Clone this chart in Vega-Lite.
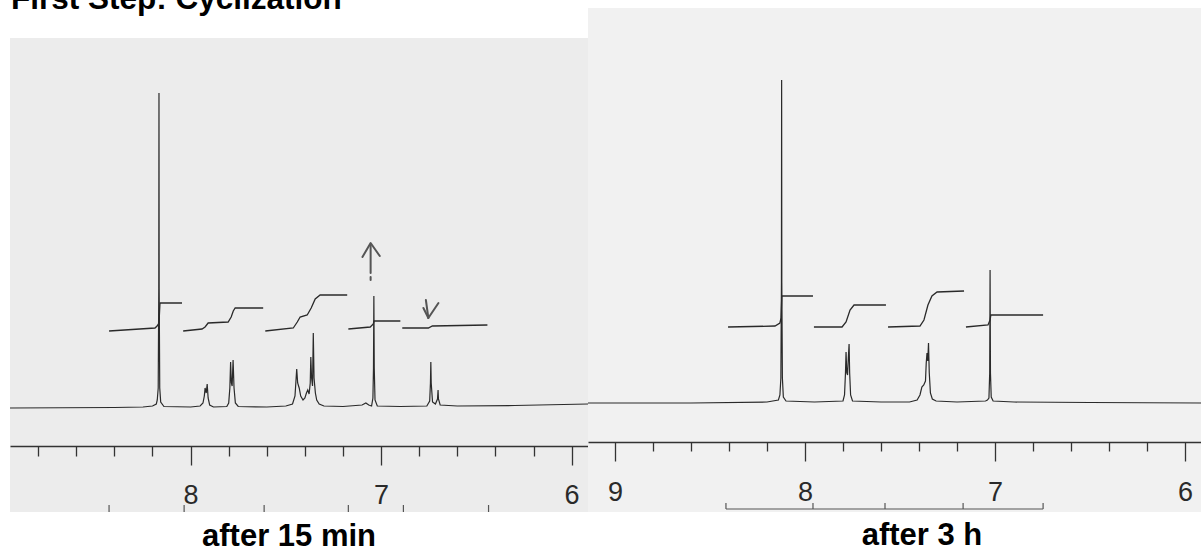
{
  "$schema": "https://vega.github.io/schema/vega-lite/v6.json",
  "autosize": {"type": "pad"},
  "padding": {"left": 7, "top": 0, "right": 0, "bottom": 0},
  "background": "white",
  "spacing": 0,
  "bounds": "flush",
  "config": {"view": {"stroke": null, "fill": null}},
  "datasets": {
    "ttl": [{"ppm": 8.943, "v": 399, "label": "First Step: Cyclization"}],
    "bgL": [{"x1": 8.948, "x2": 5.914, "y1": -104, "y2": 370}],
    "bgR": [{"x1": 9.142, "x2": 5.916, "y1": -109, "y2": 395}],
    "specL": [
      {"ppm": 8.948, "v": 0}, {"ppm": 8.4, "v": 0.5}, {"ppm": 8.25, "v": 1}, {"ppm": 8.2, "v": 2}, {"ppm": 8.18, "v": 4},
      {"ppm": 8.175, "v": 8}, {"ppm": 8.17, "v": 20}, {"ppm": 8.167, "v": 120}, {"ppm": 8.166, "v": 315}, {"ppm": 8.165, "v": 120},
      {"ppm": 8.162, "v": 20}, {"ppm": 8.157, "v": 6}, {"ppm": 8.14, "v": 1.5}, {"ppm": 8.0, "v": 1}, {"ppm": 7.95, "v": 2},
      {"ppm": 7.935, "v": 5}, {"ppm": 7.928, "v": 12}, {"ppm": 7.924, "v": 20}, {"ppm": 7.918, "v": 15}, {"ppm": 7.913, "v": 24},
      {"ppm": 7.908, "v": 10}, {"ppm": 7.9, "v": 3}, {"ppm": 7.88, "v": 1}, {"ppm": 7.81, "v": 1.5}, {"ppm": 7.8, "v": 5},
      {"ppm": 7.794, "v": 20}, {"ppm": 7.79, "v": 46}, {"ppm": 7.786, "v": 25}, {"ppm": 7.782, "v": 22}, {"ppm": 7.777, "v": 48},
      {"ppm": 7.772, "v": 20}, {"ppm": 7.765, "v": 5}, {"ppm": 7.75, "v": 1.5}, {"ppm": 7.6, "v": 1}, {"ppm": 7.5, "v": 2},
      {"ppm": 7.465, "v": 4}, {"ppm": 7.452, "v": 12}, {"ppm": 7.446, "v": 30}, {"ppm": 7.443, "v": 39}, {"ppm": 7.438, "v": 25},
      {"ppm": 7.43, "v": 20}, {"ppm": 7.422, "v": 12}, {"ppm": 7.41, "v": 8}, {"ppm": 7.4, "v": 10}, {"ppm": 7.392, "v": 15},
      {"ppm": 7.385, "v": 18}, {"ppm": 7.378, "v": 14}, {"ppm": 7.372, "v": 25}, {"ppm": 7.369, "v": 51}, {"ppm": 7.365, "v": 30},
      {"ppm": 7.36, "v": 22}, {"ppm": 7.356, "v": 75}, {"ppm": 7.352, "v": 30}, {"ppm": 7.345, "v": 15}, {"ppm": 7.338, "v": 8},
      {"ppm": 7.325, "v": 4}, {"ppm": 7.3, "v": 2}, {"ppm": 7.2, "v": 1.5}, {"ppm": 7.1, "v": 3}, {"ppm": 7.08, "v": 5},
      {"ppm": 7.065, "v": 3}, {"ppm": 7.05, "v": 2}, {"ppm": 7.043, "v": 10}, {"ppm": 7.04, "v": 40}, {"ppm": 7.038, "v": 112},
      {"ppm": 7.036, "v": 40}, {"ppm": 7.032, "v": 8}, {"ppm": 7.02, "v": 2}, {"ppm": 6.9, "v": 1.5}, {"ppm": 6.76, "v": 2},
      {"ppm": 6.745, "v": 7}, {"ppm": 6.741, "v": 25}, {"ppm": 6.739, "v": 46}, {"ppm": 6.737, "v": 25}, {"ppm": 6.73, "v": 6},
      {"ppm": 6.715, "v": 4}, {"ppm": 6.704, "v": 9}, {"ppm": 6.701, "v": 18}, {"ppm": 6.699, "v": 9}, {"ppm": 6.69, "v": 3},
      {"ppm": 6.6, "v": 2}, {"ppm": 6.3, "v": 2.5}, {"ppm": 5.914, "v": 4}
    ],
    "specR": [
      {"ppm": 9.142, "v": 0}, {"ppm": 8.6, "v": 0}, {"ppm": 8.2, "v": 1}, {"ppm": 8.14, "v": 3}, {"ppm": 8.132, "v": 8},
      {"ppm": 8.127, "v": 25}, {"ppm": 8.124, "v": 120}, {"ppm": 8.123, "v": 323}, {"ppm": 8.122, "v": 120}, {"ppm": 8.119, "v": 25},
      {"ppm": 8.114, "v": 6}, {"ppm": 8.1, "v": 2}, {"ppm": 7.95, "v": 1}, {"ppm": 7.8, "v": 2}, {"ppm": 7.792, "v": 8},
      {"ppm": 7.787, "v": 30}, {"ppm": 7.784, "v": 51}, {"ppm": 7.78, "v": 30}, {"ppm": 7.776, "v": 28}, {"ppm": 7.772, "v": 45},
      {"ppm": 7.768, "v": 59}, {"ppm": 7.765, "v": 30}, {"ppm": 7.76, "v": 8}, {"ppm": 7.75, "v": 2}, {"ppm": 7.6, "v": 1},
      {"ppm": 7.45, "v": 1}, {"ppm": 7.41, "v": 3}, {"ppm": 7.395, "v": 8}, {"ppm": 7.385, "v": 16}, {"ppm": 7.375, "v": 18},
      {"ppm": 7.366, "v": 22}, {"ppm": 7.362, "v": 40}, {"ppm": 7.358, "v": 50}, {"ppm": 7.354, "v": 42}, {"ppm": 7.35, "v": 60},
      {"ppm": 7.346, "v": 30}, {"ppm": 7.34, "v": 10}, {"ppm": 7.33, "v": 4}, {"ppm": 7.31, "v": 2}, {"ppm": 7.2, "v": 1},
      {"ppm": 7.05, "v": 2}, {"ppm": 7.04, "v": 3}, {"ppm": 7.032, "v": 5}, {"ppm": 7.028, "v": 30}, {"ppm": 7.026, "v": 133},
      {"ppm": 7.024, "v": 30}, {"ppm": 7.02, "v": 6}, {"ppm": 7.01, "v": 2}, {"ppm": 6.9, "v": 1}, {"ppm": 6.5, "v": 0.5},
      {"ppm": 5.916, "v": 0}
    ],
    "intL": [
      {"seg": "L1", "ppm": 8.428, "v": 77}, {"seg": "L1", "ppm": 8.187, "v": 80}, {"seg": "L1", "ppm": 8.176, "v": 82}, {"seg": "L1", "ppm": 8.166, "v": 85}, {"seg": "L1", "ppm": 8.161, "v": 104}, {"seg": "L1", "ppm": 8.16, "v": 105}, {"seg": "L1", "ppm": 8.045, "v": 105},
      {"seg": "L2", "ppm": 8.039, "v": 77}, {"seg": "L2", "ppm": 7.94, "v": 79}, {"seg": "L2", "ppm": 7.924, "v": 81}, {"seg": "L2", "ppm": 7.908, "v": 85}, {"seg": "L2", "ppm": 7.803, "v": 86}, {"seg": "L2", "ppm": 7.787, "v": 91}, {"seg": "L2", "ppm": 7.776, "v": 97}, {"seg": "L2", "ppm": 7.766, "v": 100}, {"seg": "L2", "ppm": 7.619, "v": 100},
      {"seg": "L3", "ppm": 7.608, "v": 77}, {"seg": "L3", "ppm": 7.461, "v": 80}, {"seg": "L3", "ppm": 7.44, "v": 86}, {"seg": "L3", "ppm": 7.425, "v": 91}, {"seg": "L3", "ppm": 7.388, "v": 93}, {"seg": "L3", "ppm": 7.367, "v": 100}, {"seg": "L3", "ppm": 7.346, "v": 109}, {"seg": "L3", "ppm": 7.32, "v": 113}, {"seg": "L3", "ppm": 7.178, "v": 113},
      {"seg": "L4", "ppm": 7.172, "v": 79}, {"seg": "L4", "ppm": 7.057, "v": 81}, {"seg": "L4", "ppm": 7.041, "v": 84}, {"seg": "L4", "ppm": 7.037, "v": 87}, {"seg": "L4", "ppm": 6.899, "v": 87},
      {"seg": "L5", "ppm": 6.889, "v": 80}, {"seg": "L5", "ppm": 6.752, "v": 80}, {"seg": "L5", "ppm": 6.731, "v": 82}, {"seg": "L5", "ppm": 6.442, "v": 83}
    ],
    "intR": [
      {"seg": "R1", "ppm": 8.405, "v": 76}, {"seg": "R1", "ppm": 8.158, "v": 77}, {"seg": "R1", "ppm": 8.132, "v": 80}, {"seg": "R1", "ppm": 8.126, "v": 85}, {"seg": "R1", "ppm": 8.122, "v": 107}, {"seg": "R1", "ppm": 7.958, "v": 107},
      {"seg": "R2", "ppm": 7.953, "v": 76}, {"seg": "R2", "ppm": 7.805, "v": 76}, {"seg": "R2", "ppm": 7.784, "v": 81}, {"seg": "R2", "ppm": 7.763, "v": 93}, {"seg": "R2", "ppm": 7.742, "v": 98}, {"seg": "R2", "ppm": 7.574, "v": 98},
      {"seg": "R3", "ppm": 7.563, "v": 76}, {"seg": "R3", "ppm": 7.395, "v": 77}, {"seg": "R3", "ppm": 7.374, "v": 83}, {"seg": "R3", "ppm": 7.353, "v": 98}, {"seg": "R3", "ppm": 7.332, "v": 107}, {"seg": "R3", "ppm": 7.305, "v": 111}, {"seg": "R3", "ppm": 7.163, "v": 112},
      {"seg": "R4", "ppm": 7.153, "v": 76}, {"seg": "R4", "ppm": 7.037, "v": 78}, {"seg": "R4", "ppm": 7.026, "v": 83}, {"seg": "R4", "ppm": 7.022, "v": 88}, {"seg": "R4", "ppm": 6.747, "v": 88}
    ],
    "arrL": [
      {"seg": "a1", "o": 1, "ppm": 7.055, "v": 163}, {"seg": "a1", "o": 2, "ppm": 7.055, "v": 135},
      {"seg": "a2", "o": 1, "ppm": 7.055, "v": 131}, {"seg": "a2", "o": 2, "ppm": 7.055, "v": 128},
      {"seg": "a3", "o": 1, "ppm": 7.098, "v": 151}, {"seg": "a3", "o": 2, "ppm": 7.055, "v": 165}, {"seg": "a3", "o": 3, "ppm": 7.007, "v": 152},
      {"seg": "b1", "o": 1, "ppm": 6.765, "v": 108}, {"seg": "b1", "o": 2, "ppm": 6.752, "v": 90},
      {"seg": "b2", "o": 1, "ppm": 6.778, "v": 100}, {"seg": "b2", "o": 2, "ppm": 6.752, "v": 90}, {"seg": "b2", "o": 3, "ppm": 6.699, "v": 105}
    ],
    "tickL": [
      {"ppm": 8.428, "v1": -97, "v2": -104}, {"ppm": 8.034, "v1": -97, "v2": -104}, {"ppm": 7.614, "v1": -97, "v2": -104},
      {"ppm": 7.172, "v1": -97, "v2": -104}, {"ppm": 6.883, "v1": -97, "v2": -104}, {"ppm": 6.436, "v1": -97, "v2": -104}
    ],
    "brR": [
      {"p1": 8.416, "p2": 6.747, "v1": -106, "v2": -106},
      {"p1": 8.416, "p2": 8.416, "v1": -106, "v2": -100},
      {"p1": 7.958, "p2": 7.958, "v1": -106, "v2": -100},
      {"p1": 7.579, "p2": 7.579, "v1": -106, "v2": -100},
      {"p1": 7.168, "p2": 7.168, "v1": -106, "v2": -100},
      {"p1": 6.747, "p2": 6.747, "v1": -106, "v2": -100}
    ]
  },
  "hconcat": [
    {
      "width": 578,
      "height": 512,
      "title": {"text": "after 15 min", "orient": "bottom", "anchor": "middle", "frame": "group", "font": "Liberation Sans", "fontSize": 31, "fontWeight": "bold", "color": "#000000", "baseline": "alphabetic", "offset": 33, "dx": -10},
      "resolve": {"axis": {"x": "independent"}},
      "layer": [
        {
          "data": {"name": "bgL"},
          "mark": {"type": "rect", "fill": "#ececec"},
          "encoding": {
            "x": {"field": "x1", "type": "quantitative", "scale": {"domain": [5.914, 8.948], "reverse": true, "nice": false, "zero": false},
              "axis": {"orient": "bottom", "offset": -66, "values": [8, 7, 6], "format": "d", "tickSize": 19, "tickWidth": 1.3, "tickColor": "#333333", "domainColor": "#333333", "domainWidth": 1.3, "labelFont": "Liberation Sans", "labelFontSize": 27, "labelColor": "#2a2a2a", "labelPadding": 38, "labelBaseline": "alphabetic", "labelFlush": false, "labelOverlap": false, "labelBound": false, "grid": false, "title": null, "zindex": 1}},
            "x2": {"field": "x2"},
            "y": {"field": "y1", "type": "quantitative", "scale": {"domain": [-104, 408], "nice": false, "zero": false}, "axis": null},
            "y2": {"field": "y2"}
          }
        },
        {
          "data": {"name": "specL"},
          "mark": {"type": "line", "color": "#2a2a2a", "strokeWidth": 1.2},
          "encoding": {
            "x": {"field": "ppm", "type": "quantitative",
              "axis": {"orient": "bottom", "offset": -66, "values": [6.2, 6.4, 6.6, 6.8, 7.2, 7.4, 7.6, 7.8, 8.2, 8.4, 8.6, 8.8], "tickSize": 10, "tickWidth": 1.3, "tickColor": "#333333", "domain": false, "labels": false, "grid": false, "title": null, "zindex": 1}},
            "y": {"field": "v", "type": "quantitative"}
          }
        },
        {
          "data": {"name": "intL"},
          "mark": {"type": "line", "color": "#2a2a2a", "strokeWidth": 1.3},
          "encoding": {
            "x": {"field": "ppm", "type": "quantitative", "axis": null},
            "y": {"field": "v", "type": "quantitative"},
            "detail": {"field": "seg"}
          }
        },
        {
          "data": {"name": "arrL"},
          "mark": {"type": "line", "color": "#555555", "strokeWidth": 2, "strokeCap": "round", "strokeJoin": "round"},
          "encoding": {
            "x": {"field": "ppm", "type": "quantitative", "axis": null},
            "y": {"field": "v", "type": "quantitative"},
            "detail": {"field": "seg"},
            "order": {"field": "o"}
          }
        },
        {
          "data": {"name": "tickL"},
          "mark": {"type": "rule", "color": "#555555", "strokeWidth": 1.2},
          "encoding": {
            "x": {"field": "ppm", "type": "quantitative", "axis": null},
            "y": {"field": "v1", "type": "quantitative"},
            "y2": {"field": "v2"}
          }
        },
        {
          "data": {"name": "ttl"},
          "mark": {"type": "text", "clip": true, "align": "left", "baseline": "alphabetic", "font": "Liberation Sans", "fontSize": 31.5, "fontWeight": "bold", "color": "#000000"},
          "encoding": {
            "x": {"field": "ppm", "type": "quantitative", "axis": null},
            "y": {"field": "v", "type": "quantitative"},
            "text": {"field": "label"}
          }
        }
      ]
    },
    {
      "width": 613,
      "height": 512,
      "title": {"text": "after 3 h", "orient": "bottom", "anchor": "middle", "frame": "group", "font": "Liberation Sans", "fontSize": 31, "fontWeight": "bold", "color": "#000000", "baseline": "alphabetic", "offset": 33, "dx": 27.5},
      "resolve": {"axis": {"x": "independent"}},
      "layer": [
        {
          "data": {"name": "bgR"},
          "mark": {"type": "rect", "fill": "#f1f1f1"},
          "encoding": {
            "x": {"field": "x1", "type": "quantitative", "scale": {"domain": [5.916, 9.142], "reverse": true, "nice": false, "zero": false},
              "axis": {"orient": "bottom", "offset": -70, "values": [9, 8, 7, 6], "format": "d", "tickSize": 19, "tickWidth": 1.3, "tickColor": "#333333", "domainColor": "#333333", "domainWidth": 1.3, "labelFont": "Liberation Sans", "labelFontSize": 27, "labelColor": "#2a2a2a", "labelPadding": 39, "labelBaseline": "alphabetic", "labelFlush": false, "labelOverlap": false, "labelBound": false, "grid": false, "title": null, "zindex": 1}},
            "x2": {"field": "x2"},
            "y": {"field": "y1", "type": "quantitative", "scale": {"domain": [-109, 403], "nice": false, "zero": false}, "axis": null},
            "y2": {"field": "y2"}
          }
        },
        {
          "data": {"name": "specR"},
          "mark": {"type": "line", "color": "#2a2a2a", "strokeWidth": 1.2},
          "encoding": {
            "x": {"field": "ppm", "type": "quantitative",
              "axis": {"orient": "bottom", "offset": -70, "values": [6.2, 6.4, 6.6, 6.8, 7.2, 7.4, 7.6, 7.8, 8.2, 8.4, 8.6, 8.8], "tickSize": 9, "tickWidth": 1.3, "tickColor": "#333333", "domain": false, "labels": false, "grid": false, "title": null, "zindex": 1}},
            "y": {"field": "v", "type": "quantitative"}
          }
        },
        {
          "data": {"name": "intR"},
          "mark": {"type": "line", "color": "#2a2a2a", "strokeWidth": 1.3},
          "encoding": {
            "x": {"field": "ppm", "type": "quantitative", "axis": null},
            "y": {"field": "v", "type": "quantitative"},
            "detail": {"field": "seg"}
          }
        },
        {
          "data": {"name": "brR"},
          "mark": {"type": "rule", "color": "#555555", "strokeWidth": 1.2},
          "encoding": {
            "x": {"field": "p1", "type": "quantitative", "axis": null},
            "x2": {"field": "p2"},
            "y": {"field": "v1", "type": "quantitative"},
            "y2": {"field": "v2"}
          }
        }
      ]
    }
  ]
}
